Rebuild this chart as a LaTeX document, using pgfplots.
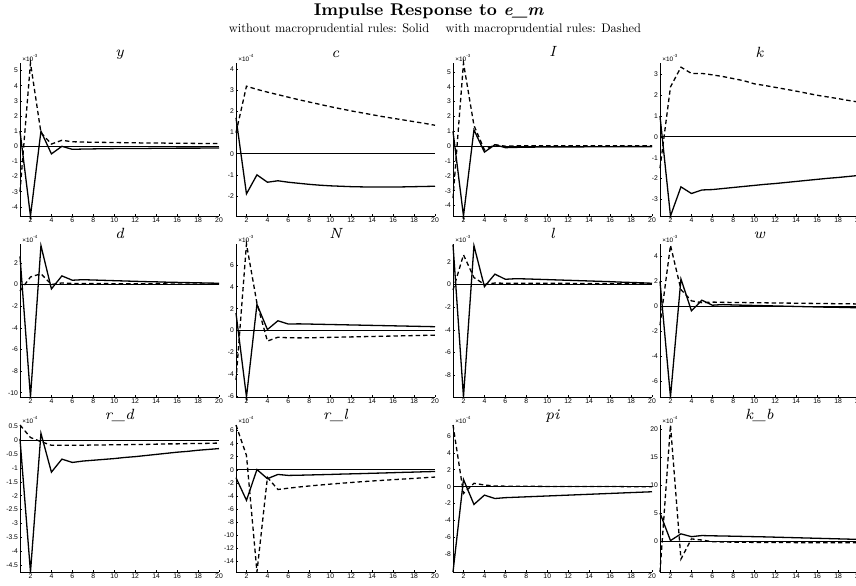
\documentclass[border=0pt]{standalone}
\usepackage{fontspec}
\newfontfamily\tickfont{Liberation Sans}
\usepackage{graphicx}
\usepackage{pgfplots}
\pgfplotsset{compat=1.18}

\pgfplotsset{
  irf/.style={
    scale only axis, width=99.5pt,
    axis lines*=left, xmin=1, xmax=20, xtick={2,4,...,20},
    tick align=inside, major tick length=1.2pt,
    every tick/.style={black, line width=0.3pt},
    axis line style={black, line width=0.45pt},
    ticklabel style={font=\tickfont\fontsize{3.4}{3.6}\selectfont, inner sep=0.8pt},
    /pgf/number format/assume math mode=true,
    /pgf/number format/fixed,
    title style={at={(0.5,1)}, anchor=base, yshift=-3pt,
      font=\fontsize{7.4}{8}\selectfont\itshape},
    clip=false,
  },
  irf row1/.style={irf, height=76.5pt},
  irf row2/.style={irf, height=76.5pt},
  irf row3/.style={irf, height=73.5pt},
  sol/.style={black, line width=0.65pt},
  das/.style={black, line width=0.65pt, dash pattern=on 2.2pt off 1.5pt},
  zer/.style={black, line width=0.55pt},
  expo/.style={extra description/.code={
    \node[anchor=south west, inner sep=0pt, xshift=1pt, yshift=0.3pt,
      font=\tickfont\fontsize{3.2}{3.4}\selectfont]
      at (rel axis cs:0,1) {×10\textsuperscript{#1}};}},
}

\begin{document}
\begin{tikzpicture}
\useasboundingbox (0,0) rectangle (428pt,292.5pt);
\clip (0,0) rectangle (428pt,292.5pt);

\node[font=\fontsize{8.5}{10}\selectfont\bfseries] at (214.5pt,287pt)
  {Impulse Response to \textit{e\_m}};
\node at (217.5pt,277.8pt) {\scalebox{0.62}{\fontsize{10}{12}\selectfont
  without macroprudential rules: Solid\quad\ with macroprudential rules: Dashed}};

% ---------------- row 1 ----------------
\begin{axis}[irf row1, at={(10pt,184.5pt)}, anchor=south west, title={y},
  ymin=-4.6, ymax=5.5, ytick={-4,...,5}, expo={-3}]
\addplot[zer] coordinates {(1,0) (20,0)};
\addplot[sol] coordinates {(1,1.0) (2,-4.6) (3,1.0) (4,-0.5) (5,0.0) (6,-0.2) (7,-0.18) (8,-0.17) (9,-0.16) (10,-0.15) (11,-0.15) (12,-0.14) (13,-0.14) (14,-0.13) (15,-0.13) (16,-0.12) (17,-0.12) (18,-0.12) (19,-0.11) (20,-0.11)};
\addplot[das] coordinates {(1,-3.0) (2,5.5) (3,0.9) (4,0.15) (5,0.4) (6,0.3) (7,0.28) (8,0.27) (9,0.26) (10,0.25) (11,0.24) (12,0.23) (13,0.22) (14,0.22) (15,0.21) (16,0.2) (17,0.2) (18,0.19) (19,0.19) (20,0.18)};
\end{axis}

\begin{axis}[irf row1, at={(118pt,184.5pt)}, anchor=south west, title={c},
  ymin=-2.95, ymax=4.3, ytick={-2,...,4}, expo={-4}]
\addplot[zer] coordinates {(1,0) (20,0)};
\addplot[sol] coordinates {(1,1.7) (2,-1.9) (3,-1.0) (4,-1.35) (5,-1.28) (6,-1.35) (7,-1.4) (8,-1.45) (9,-1.49) (10,-1.52) (11,-1.54) (12,-1.56) (13,-1.57) (14,-1.58) (15,-1.58) (16,-1.58) (17,-1.57) (18,-1.56) (19,-1.55) (20,-1.54)};
\addplot[das] coordinates {(1,1.0) (2,3.2) (3,3.05) (4,2.92) (5,2.8) (6,2.68) (7,2.56) (8,2.45) (9,2.34) (10,2.23) (11,2.13) (12,2.03) (13,1.94) (14,1.85) (15,1.76) (16,1.68) (17,1.6) (18,1.52) (19,1.44) (20,1.35)};
\end{axis}

\begin{axis}[irf row1, at={(226.5pt,184.5pt)}, anchor=south west, title={I},
  ymin=-4.7, ymax=5.6, ytick={-4,...,5}, expo={-3}]
\addplot[zer] coordinates {(1,0) (20,0)};
\addplot[sol] coordinates {(1,1.0) (2,-4.7) (3,1.1) (4,-0.4) (5,0.1) (6,-0.1) (7,-0.08) (8,-0.07) (9,-0.06) (10,-0.06) (11,-0.05) (12,-0.05) (13,-0.05) (14,-0.04) (15,-0.04) (16,-0.04) (17,-0.03) (18,-0.03) (19,-0.03) (20,-0.03)};
\addplot[das] coordinates {(1,-3.5) (2,5.6) (3,1.4) (4,-0.25) (5,0.1) (6,0.0) (7,0.02) (8,0.02) (9,0.02) (10,0.02) (11,0.02) (12,0.02) (13,0.02) (14,0.02) (15,0.02) (16,0.02) (17,0.02) (18,0.02) (19,0.02) (20,0.02)};
\end{axis}

\begin{axis}[irf row1, at={(330pt,184.5pt)}, anchor=south west, title={k},
  ymin=-3.8, ymax=3.55, ytick={-3,...,3}, expo={-3}]
\addplot[zer] coordinates {(1,0) (20,0)};
\addplot[sol] coordinates {(1,1.0) (2,-3.8) (3,-2.4) (4,-2.72) (5,-2.55) (6,-2.53) (7,-2.48) (8,-2.43) (9,-2.38) (10,-2.33) (11,-2.28) (12,-2.24) (13,-2.19) (14,-2.14) (15,-2.09) (16,-2.04) (17,-1.99) (18,-1.95) (19,-1.9) (20,-1.85)};
\addplot[das] coordinates {(1,-1.5) (2,2.4) (3,3.35) (4,3.05) (5,3.05) (6,2.98) (7,2.9) (8,2.8) (9,2.7) (10,2.55) (11,2.47) (12,2.38) (13,2.29) (14,2.2) (15,2.1) (16,2.0) (17,1.92) (18,1.84) (19,1.75) (20,1.67)};
\end{axis}

% ---------------- row 2 ----------------
\begin{axis}[irf row2, at={(10pt,94pt)}, anchor=south west, title={d},
  ymin=-10.4, ymax=3.75, ytick={-10,-8,...,2}, expo={-4}]
\addplot[zer] coordinates {(1,0) (20,0)};
\addplot[sol] coordinates {(1,2.6) (2,-10.4) (3,3.6) (4,-0.4) (5,0.8) (6,0.4) (7,0.45) (8,0.42) (9,0.39) (10,0.36) (11,0.33) (12,0.3) (13,0.27) (14,0.25) (15,0.22) (16,0.2) (17,0.18) (18,0.16) (19,0.14) (20,0.12)};
\addplot[das] coordinates {(1,-0.6) (2,0.7) (3,1.0) (4,0.0) (5,0.15) (6,0.1) (7,0.1) (8,0.09) (9,0.09) (10,0.08) (11,0.08) (12,0.07) (13,0.07) (14,0.07) (15,0.06) (16,0.06) (17,0.06) (18,0.05) (19,0.05) (20,0.05)};
\end{axis}

\begin{axis}[irf row2, at={(118pt,94pt)}, anchor=south west, title={N},
  ymin=-6.05, ymax=7.9, ytick={-6,-4,...,6}, expo={-3}]
\addplot[zer] coordinates {(1,0) (20,0)};
\addplot[sol] coordinates {(1,1.6) (2,-6.05) (3,2.4) (4,0.1) (5,0.9) (6,0.6) (7,0.62) (8,0.6) (9,0.58) (10,0.56) (11,0.54) (12,0.52) (13,0.5) (14,0.48) (15,0.46) (16,0.44) (17,0.42) (18,0.4) (19,0.38) (20,0.36)};
\addplot[das] coordinates {(1,-4.5) (2,7.9) (3,2.5) (4,-0.95) (5,-0.6) (6,-0.65) (7,-0.66) (8,-0.65) (9,-0.63) (10,-0.61) (11,-0.59) (12,-0.57) (13,-0.55) (14,-0.53) (15,-0.51) (16,-0.49) (17,-0.47) (18,-0.45) (19,-0.43) (20,-0.41)};
\end{axis}

\begin{axis}[irf row2, at={(226.5pt,94pt)}, anchor=south west, title={l},
  ymin=-9.9, ymax=3.55, ytick={-8,-6,...,2}, expo={-3}]
\addplot[zer] coordinates {(1,0) (20,0)};
\addplot[sol] coordinates {(1,3.5) (2,-9.9) (3,3.4) (4,-0.2) (5,0.9) (6,0.45) (7,0.5) (8,0.48) (9,0.45) (10,0.42) (11,0.39) (12,0.36) (13,0.33) (14,0.3) (15,0.27) (16,0.24) (17,0.2) (18,0.17) (19,0.14) (20,0.1)};
\addplot[das] coordinates {(1,-0.5) (2,2.6) (3,0.6) (4,0.0) (5,0.12) (6,0.1) (7,0.1) (8,0.1) (9,0.1) (10,0.09) (11,0.09) (12,0.09) (13,0.08) (14,0.08) (15,0.08) (16,0.07) (17,0.07) (18,0.07) (19,0.06) (20,0.06)};
\end{axis}

\begin{axis}[irf row2, at={(330pt,94pt)}, anchor=south west, title={w},
  ymin=-7.25, ymax=5.0, ytick={-6,-4,...,4}, expo={-3}]
\addplot[zer] coordinates {(1,0) (20,0)};
\addplot[sol] coordinates {(1,2.0) (2,-7.25) (3,2.2) (4,-0.35) (5,0.5) (6,0.1) (7,0.15) (8,0.12) (9,0.1) (10,0.08) (11,0.06) (12,0.04) (13,0.02) (14,0.0) (15,-0.02) (16,-0.04) (17,-0.06) (18,-0.07) (19,-0.09) (20,-0.1)};
\addplot[das] coordinates {(1,-1.5) (2,4.9) (3,1.35) (4,0.45) (5,0.3) (6,0.35) (7,0.33) (8,0.32) (9,0.31) (10,0.3) (11,0.29) (12,0.28) (13,0.27) (14,0.26) (15,0.25) (16,0.24) (17,0.23) (18,0.22) (19,0.21) (20,0.2)};
\end{axis}

% ---------------- row 3 ----------------
\begin{axis}[irf row3, at={(10pt,6.5pt)}, anchor=south west, title={r\_d},
  ymin=-4.75, ymax=0.55, ytick={-4.5,-4,...,0.5}, expo={-4}]
\addplot[zer] coordinates {(1,0) (20,0)};
\addplot[sol] coordinates {(1,0.05) (2,-4.75) (3,0.25) (4,-1.15) (5,-0.68) (6,-0.8) (7,-0.75) (8,-0.72) (9,-0.69) (10,-0.66) (11,-0.62) (12,-0.59) (13,-0.55) (14,-0.51) (15,-0.47) (16,-0.43) (17,-0.4) (18,-0.36) (19,-0.33) (20,-0.3)};
\addplot[das] coordinates {(1,0.55) (2,0.1) (3,-0.05) (4,-0.18) (5,-0.18) (6,-0.18) (7,-0.18) (8,-0.17) (9,-0.17) (10,-0.16) (11,-0.16) (12,-0.15) (13,-0.15) (14,-0.14) (15,-0.13) (16,-0.13) (17,-0.12) (18,-0.12) (19,-0.11) (20,-0.1)};
\end{axis}

\begin{axis}[irf row3, at={(118pt,6.5pt)}, anchor=south west, title={r\_l},
  ymin=-15.6, ymax=6.85, ytick={-14,-12,...,6}, expo={-4}]
\addplot[zer] coordinates {(1,0) (20,0)};
\addplot[sol] coordinates {(1,-1.2) (2,-4.65) (3,0.05) (4,-1.35) (5,-0.7) (6,-0.85) (7,-0.82) (8,-0.78) (9,-0.74) (10,-0.7) (11,-0.65) (12,-0.61) (13,-0.57) (14,-0.52) (15,-0.48) (16,-0.43) (17,-0.38) (18,-0.34) (19,-0.29) (20,-0.25)};
\addplot[das] coordinates {(1,6.85) (2,2.2) (3,-15.6) (4,-1.15) (5,-3.0) (6,-2.8) (7,-2.62) (8,-2.46) (9,-2.32) (10,-2.18) (11,-2.05) (12,-1.93) (13,-1.81) (14,-1.7) (15,-1.6) (16,-1.5) (17,-1.4) (18,-1.3) (19,-1.2) (20,-1.1)};
\end{axis}

\begin{axis}[irf row3, at={(226.5pt,6.5pt)}, anchor=south west, title={pi},
  ymin=-10.1, ymax=7.3, ytick={-8,-6,...,6}, expo={-4}]
\addplot[zer] coordinates {(1,0) (20,0)};
\addplot[sol] coordinates {(1,-10.1) (2,0.85) (3,-2.1) (4,-1.0) (5,-1.4) (6,-1.3) (7,-1.25) (8,-1.2) (9,-1.15) (10,-1.1) (11,-1.05) (12,-1.0) (13,-0.95) (14,-0.9) (15,-0.85) (16,-0.8) (17,-0.75) (18,-0.7) (19,-0.65) (20,-0.6)};
\addplot[das] coordinates {(1,7.3) (2,-0.8) (3,0.4) (4,0.2) (5,0.08) (6,0.06) (7,0.05) (8,0.04) (9,0.04) (10,0.03) (11,0.03) (12,0.02) (13,0.02) (14,0.02) (15,0.01) (16,0.01) (17,0.01) (18,0.0) (19,0.0) (20,0.0)};
\end{axis}

\begin{axis}[irf row3, at={(330pt,6.5pt)}, anchor=south west, title={k\_b},
  ymin=-5.5, ymax=20.7, ytick={0,5,...,20}, expo={-4}]
\addplot[zer] coordinates {(1,0) (20,0)};
\addplot[sol] coordinates {(1,5.0) (2,0.1) (3,1.3) (4,0.8) (5,1.0) (6,0.95) (7,0.92) (8,0.88) (9,0.84) (10,0.8) (11,0.76) (12,0.71) (13,0.66) (14,0.61) (15,0.56) (16,0.51) (17,0.46) (18,0.41) (19,0.36) (20,0.31)};
\addplot[das] coordinates {(1,-5.5) (2,20.7) (3,-3.2) (4,0.4) (5,0.2) (6,-0.1) (7,-0.15) (8,-0.18) (9,-0.2) (10,-0.22) (11,-0.23) (12,-0.24) (13,-0.25) (14,-0.26) (15,-0.27) (16,-0.27) (17,-0.28) (18,-0.28) (19,-0.29) (20,-0.3)};
\end{axis}
\end{tikzpicture}
\end{document}
